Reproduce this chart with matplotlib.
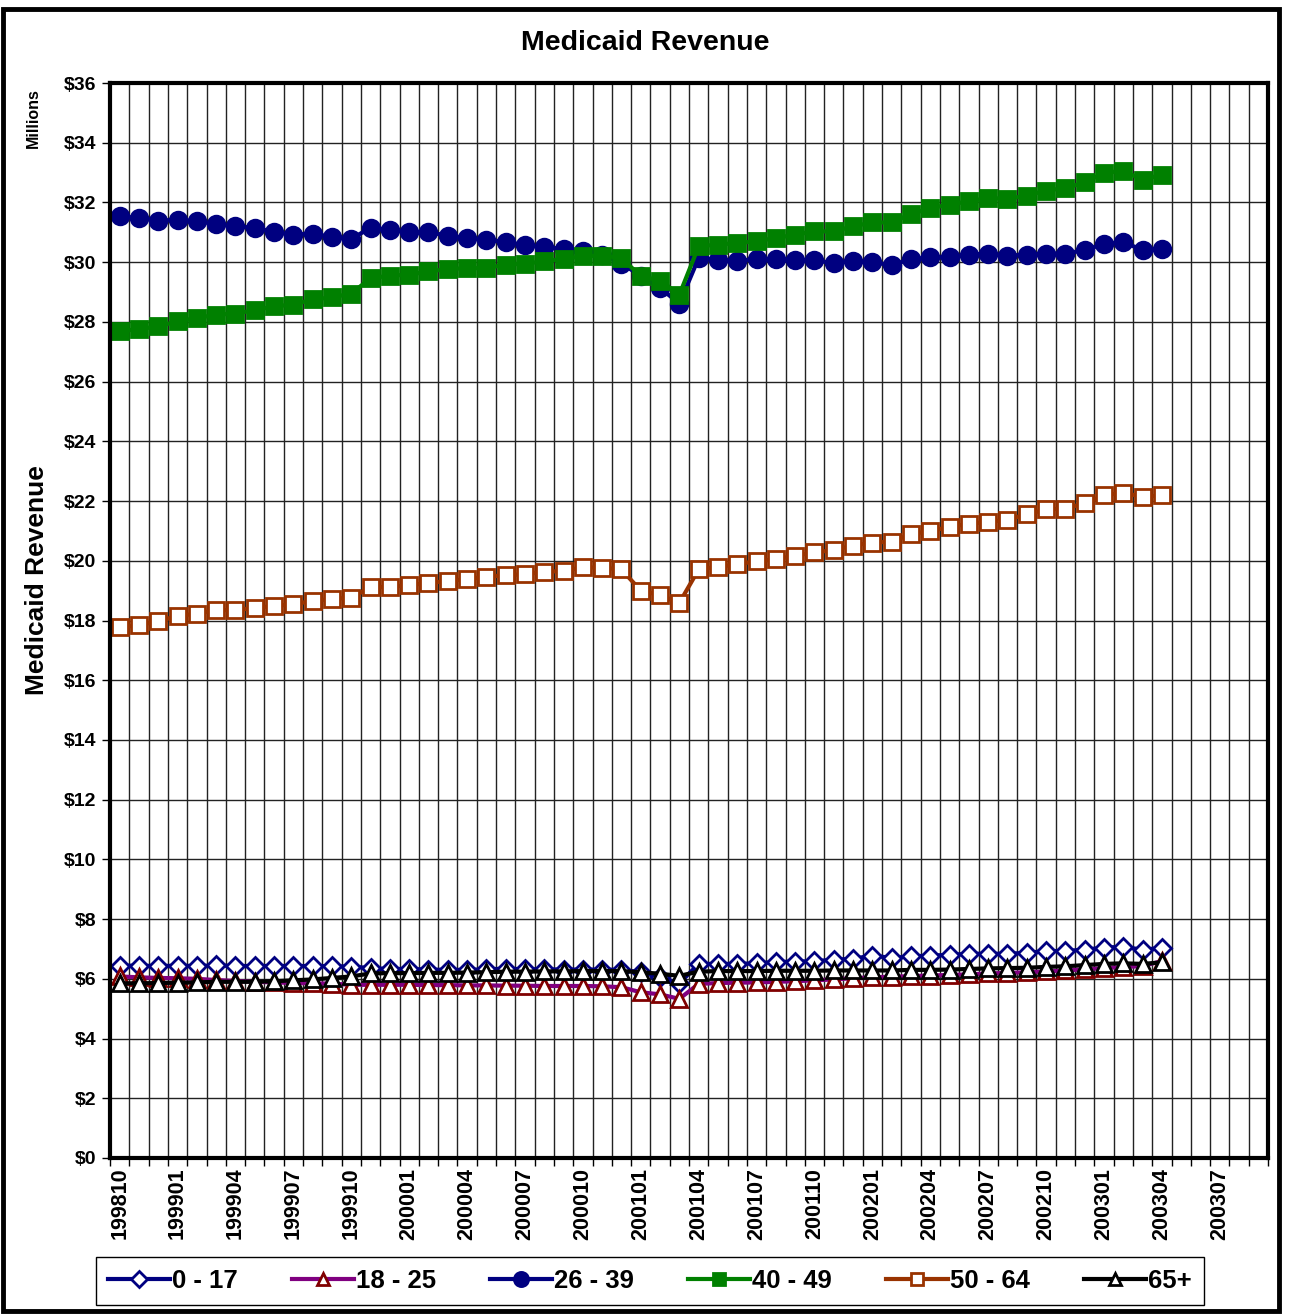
import numpy as np
import matplotlib
matplotlib.use("Agg")
import matplotlib.pyplot as plt
from matplotlib.patches import Rectangle

plt.rcParams['font.family'] = ['Liberation Sans', 'DejaVu Sans']

# months 199810 .. 200309 on the category axis, data stops at 200304
months = []
for y in range(1998, 2004):
    for m in range(1, 13):
        if (y == 1998 and m < 10) or (y == 2003 and m > 9):
            continue
        months.append(str(y) + "%02d" % m)

series_names = ["0 - 17", "18 - 25", "26 - 39", "40 - 49", "50 - 64", "65+"]

age_0_17 = [6.44, 6.44, 6.43, 6.44, 6.43, 6.45, 6.43, 6.43, 6.43, 6.43, 6.43, 6.42, 6.41,
            6.36, 6.33, 6.33, 6.31, 6.30, 6.30, 6.32, 6.34, 6.32, 6.32, 6.31, 6.31, 6.31,
            6.30, 6.22, 6.05, 5.85, 6.50, 6.50, 6.50, 6.52, 6.56, 6.58, 6.59, 6.64, 6.67,
            6.78, 6.70, 6.75, 6.78, 6.80, 6.84, 6.84, 6.84, 6.87, 6.93, 6.93, 6.98, 7.04,
            7.08, 6.97, 7.04]
age_18_25 = [6.08, 6.05, 6.03, 6.02, 6.00, 5.96, 5.93, 5.90, 5.88, 5.86, 5.85, 5.84, 5.80,
             5.80, 5.80, 5.80, 5.79, 5.79, 5.78, 5.78, 5.77, 5.77, 5.76, 5.76, 5.76, 5.75,
             5.72, 5.55, 5.48, 5.33, 5.83, 5.86, 5.87, 5.88, 5.90, 5.92, 5.95, 5.98, 6.02,
             6.05, 6.07, 6.09, 6.11, 6.13, 6.15, 6.18, 6.20, 6.22, 6.25, 6.28, 6.32, 6.36,
             6.40, 6.42, 6.60]
age_26_39 = [31.54, 31.48, 31.39, 31.42, 31.37, 31.28, 31.20, 31.15, 31.01, 30.92, 30.96,
             30.84, 30.78, 31.15, 31.09, 31.00, 31.00, 30.89, 30.81, 30.75, 30.68, 30.57,
             30.51, 30.44, 30.38, 30.25, 29.95, 29.55, 29.14, 28.61, 30.14, 30.08, 30.05,
             30.10, 30.10, 30.08, 30.06, 29.97, 30.05, 30.00, 29.90, 30.10, 30.16, 30.17,
             30.25, 30.29, 30.22, 30.25, 30.29, 30.29, 30.40, 30.61, 30.68, 30.40, 30.45]
age_40_49 = [27.69, 27.76, 27.85, 28.02, 28.13, 28.24, 28.28, 28.39, 28.52, 28.58, 28.75,
             28.82, 28.95, 29.46, 29.55, 29.58, 29.69, 29.77, 29.80, 29.80, 29.92, 29.95,
             30.03, 30.11, 30.20, 30.22, 30.14, 29.53, 29.38, 28.91, 30.53, 30.59, 30.64,
             30.70, 30.81, 30.92, 31.03, 31.03, 31.20, 31.33, 31.33, 31.61, 31.81, 31.93,
             32.04, 32.15, 32.12, 32.23, 32.40, 32.48, 32.67, 32.99, 33.06, 32.76, 32.93]
age_50_64 = [17.77, 17.84, 17.98, 18.15, 18.23, 18.35, 18.35, 18.42, 18.49, 18.54, 18.66,
             18.72, 18.77, 19.11, 19.13, 19.18, 19.26, 19.32, 19.39, 19.46, 19.52, 19.55,
             19.63, 19.66, 19.78, 19.77, 19.71, 19.00, 18.85, 18.59, 19.71, 19.80, 19.88,
             19.99, 20.05, 20.17, 20.28, 20.36, 20.51, 20.61, 20.64, 20.89, 21.00, 21.13,
             21.24, 21.30, 21.38, 21.55, 21.72, 21.75, 21.92, 22.19, 22.28, 22.14, 22.19]
age_65_plus = [5.85, 5.85, 5.86, 5.87, 5.88, 5.90, 5.90, 5.90, 5.92, 5.95, 5.98, 6.03, 6.08,
               6.18, 6.19, 6.19, 6.20, 6.20, 6.21, 6.22, 6.24, 6.24, 6.25, 6.25, 6.26, 6.26,
               6.26, 6.22, 6.17, 6.10, 6.24, 6.26, 6.26, 6.26, 6.27, 6.27, 6.27, 6.28, 6.28,
               6.28, 6.28, 6.30, 6.30, 6.31, 6.33, 6.35, 6.36, 6.37, 6.40, 6.42, 6.46, 6.50,
               6.52, 6.50, 6.55]

all_series = [age_0_17, age_18_25, age_26_39, age_40_49, age_50_64, age_65_plus]

# style per series: line colour, marker, marker face, marker edge, marker size
styles = [
    ("#000080", "D", "white", "#000080", 9),
    ("#800080", "^", "white", "#800000", 11),
    ("#000080", "o", "#000080", "#000080", 12),
    ("#008000", "s", "#008000", "#008000", 11),
    ("#993300", "s", "white", "#993300", 11),
    ("#000000", "^", "white", "#000000", 11),
]

fig = plt.figure(figsize=(12.9, 13.14), dpi=100)
ax = fig.add_axes([110 / 1290, 1 - 1158 / 1314, 1158 / 1290, 1075 / 1314])

x = np.arange(len(age_0_17))
for name, vals, st in zip(series_names, all_series, styles):
    ax.plot(x, vals, color=st[0], lw=3, marker=st[1], markerfacecolor=st[2],
            markeredgecolor=st[3], markersize=st[4], markeredgewidth=2, label=name)

ax.set_xlim(-0.5, len(months) - 0.5)
ax.set_ylim(0, 36)
ax.set_yticks(range(0, 37, 2))
ax.set_yticklabels(["$" + str(v) for v in range(0, 37, 2)], fontsize=14, fontweight="bold")
ax.set_xticks(range(0, len(months), 3))
ax.set_xticklabels(months[::3], rotation=90, fontsize=15.5, fontweight="bold")
ax.set_xticks(np.arange(-0.5, len(months), 1), minor=True)
ax.tick_params(axis="x", which="major", length=0, pad=7)
ax.tick_params(axis="x", which="minor", length=6, width=1, direction="out")
ax.tick_params(axis="y", length=6, width=1, direction="out", pad=4)

ax.grid(axis="y", color="#222222", lw=1)
ax.grid(axis="x", which="minor", color="#222222", lw=1)
ax.set_axisbelow(True)
for sp in ax.spines.values():
    sp.set_linewidth(3)
    sp.set_color("black")

fig.text(645 / 1290, 1 - 43 / 1314, "Medicaid Revenue", ha="center", va="center",
         fontsize=20.5, fontweight="bold")
fig.text(37 / 1290, 1 - 580 / 1314, "Medicaid Revenue", ha="center", va="center",
         rotation=90, fontsize=19, fontweight="bold")
fig.text(33 / 1290, 1 - 118 / 1314, "Millions", ha="center", va="center",
         rotation=90, fontsize=11.5, fontweight="bold")

leg = fig.legend(loc="center", bbox_to_anchor=(650 / 1290, 1 - 1281 / 1314), ncol=6,
                 frameon=True, fancybox=False, framealpha=1, edgecolor="black",
                 handlelength=2.4, handletextpad=0.1, columnspacing=2.1, numpoints=1,
                 borderpad=0.45, borderaxespad=0, markerscale=0.85,
                 prop={"size": 18.5, "weight": "bold"})
leg.get_frame().set_linewidth(1)

fig.patches.append(Rectangle((3 / 1290, 1 - 1311 / 1314), 1276 / 1290, 1302 / 1314,
                             transform=fig.transFigure, fill=False, lw=3.5,
                             edgecolor="black"))

fig.savefig("out.png", dpi=100)
